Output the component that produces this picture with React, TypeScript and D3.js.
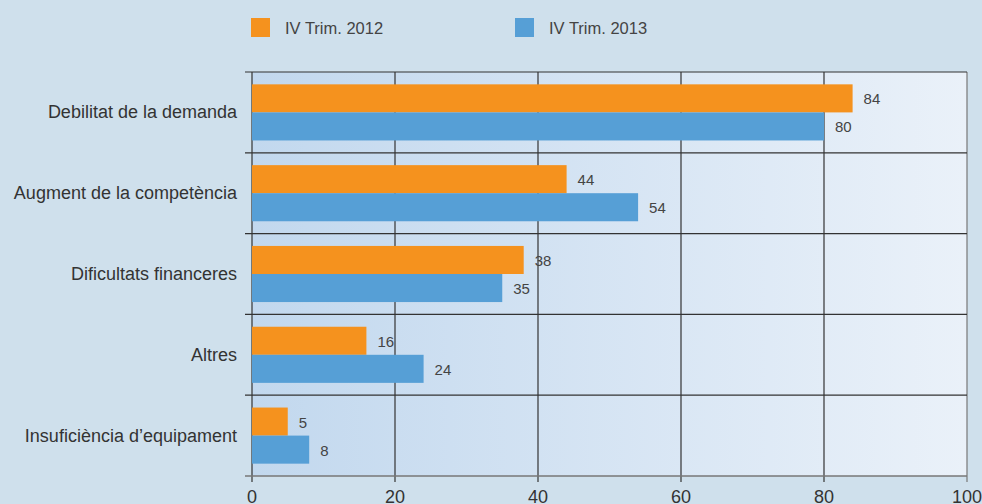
import React from 'react';
import * as d3 from 'd3';

const categories = [
  'Debilitat de la demanda',
  'Augment de la competència',
  'Dificultats financeres',
  'Altres',
  'Insuficiència d\u2019equipament',
];
const seriesNames = ['IV Trim. 2012', 'IV Trim. 2013'];
const values2012 = [84, 44, 38, 16, 5];
const values2013 = [80, 54, 35, 24, 8];
const xTicks = [0, 20, 40, 60, 80, 100];

const colors = ['#f5921e', '#569fd6'];
const font = '"Liberation Sans", Arial, sans-serif';

const width = 982;
const height = 504;
const margin = { top: 72, right: 15, bottom: 28, left: 252 };

const App = () => {
  const x = d3.scaleLinear()
    .domain([0, 100])
    .range([margin.left, width - margin.right]);

  const y = d3.scaleBand()
    .domain(categories)
    .range([margin.top, height - margin.bottom])
    .padding(0);

  const inner = d3.scaleBand()
    .domain(seriesNames)
    .range([0, y.bandwidth()])
    .paddingInner(0)
    .paddingOuter(0.44);

  const series = [values2012, values2013];
  const plotTop = margin.top;
  const plotBottom = height - margin.bottom;

  return (
    <svg width={width} height={height}
      style={{ position: 'absolute', left: 0, top: 0, display: 'block', background: '#cfe0ec' }}
      fontFamily={font}>
      <defs>
        <linearGradient id="plotBg" x1="0" x2="1" y1="0" y2="0">
          <stop offset="0%" stopColor="#c2d8ee" />
          <stop offset="100%" stopColor="#eaf1f9" />
        </linearGradient>
      </defs>

      {/* legend */}
      {seriesNames.map((s, i) => {
        const lx = 251 + i * 264;
        return (
          <g key={s}>
            <rect x={lx} y={18} width={19} height={19} fill={colors[i]} />
            <text x={lx + 34} y={34} fontSize={16.5} fill="#444">{s}</text>
          </g>
        );
      })}

      {/* plot background */}
      <rect x={x(0)} y={plotTop} width={x(100) - x(0)} height={plotBottom - plotTop} fill="url(#plotBg)" />

      {/* vertical grid lines */}
      {xTicks.map(t => (
        <line key={t} x1={x(t)} x2={x(t)} y1={plotTop} y2={plotBottom + 6}
          stroke={t === 100 ? '#777' : '#333'} strokeWidth={1.2} />
      ))}

      {/* horizontal separators */}
      {categories.map(c => (
        <line key={c} x1={x(0) - 7} x2={x(100)} y1={y(c)!} y2={y(c)!} stroke="#333" strokeWidth={1.2} />
      ))}
      <line x1={x(0) - 7} x2={x(100)} y1={plotBottom} y2={plotBottom} stroke="#777" strokeWidth={1.5} />

      {/* bars */}
      {categories.map((c, ci) => (
        <g key={c}>
          {seriesNames.map((s, si) => {
            const v = series[si][ci];
            const by = y(c)! + inner(s)!;
            return (
              <g key={s}>
                <rect x={x(0)} y={by} width={x(v) - x(0)} height={inner.bandwidth()} fill={colors[si]} />
                <text x={x(v) + 11} y={by + inner.bandwidth() / 2 + 6} fontSize={15} fill="#444">{v}</text>
              </g>
            );
          })}
          <text x={237} y={y(c)! + y.bandwidth() / 2 + 6} textAnchor="end" fontSize={18} fill="#333">{c}</text>
        </g>
      ))}

      {/* x tick labels */}
      {xTicks.map(t => (
        <text key={t} x={x(t)} y={503} textAnchor="middle" fontSize={18} fill="#333">{t}</text>
      ))}
    </svg>
  );
};

export default App;
